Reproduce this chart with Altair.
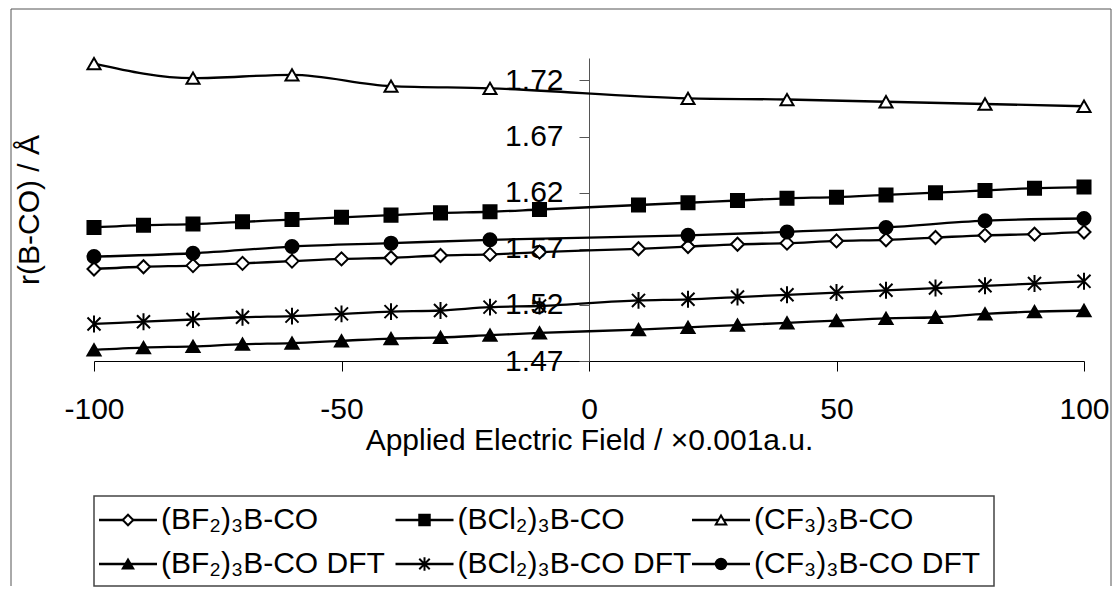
import altair as alt
import pandas as pd

# ---------------- data ----------------
x_full = [-100, -90, -80, -70, -60, -50, -40, -30, -20, -10,
          10, 20, 30, 40, 50, 60, 70, 80, 90, 100]
x_step20 = [-100, -80, -60, -40, -20, 20, 40, 60, 80, 100]

bf2_co = [1.552, 1.554, 1.555, 1.557, 1.559, 1.561, 1.562, 1.564, 1.565, 1.567,
          1.570, 1.572, 1.574, 1.575, 1.577, 1.578, 1.580, 1.582, 1.583, 1.585]
bcl2_co = [1.589, 1.591, 1.592, 1.594, 1.596, 1.598, 1.600, 1.602, 1.603, 1.605,
           1.609, 1.611, 1.613, 1.615, 1.616, 1.618, 1.620, 1.622, 1.624, 1.625]
cf3_co = [1.735, 1.722, 1.725, 1.715, 1.713, 1.704, 1.703, 1.701, 1.699, 1.697]
bf2_dft = [1.480, 1.482, 1.483, 1.485, 1.486, 1.488, 1.490, 1.491, 1.493, 1.495,
           1.498, 1.500, 1.502, 1.504, 1.506, 1.508, 1.509, 1.512, 1.514, 1.515]
bcl2_dft = [1.503, 1.505, 1.507, 1.509, 1.510, 1.512, 1.514, 1.515, 1.518, 1.519,
            1.524, 1.525, 1.527, 1.529, 1.531, 1.533, 1.535, 1.537, 1.539, 1.541]
cf3_dft = [1.563, 1.566, 1.572, 1.575, 1.578, 1.582, 1.585, 1.589, 1.595, 1.597]

series_names = ["(BF₂)₃B-CO", "(BCl₂)₃B-CO", "(CF₃)₃B-CO",
                "(BF₂)₃B-CO DFT", "(BCl₂)₃B-CO DFT", "(CF₃)₃B-CO DFT"]
series_x = [x_full, x_full, x_step20, x_full, x_full, x_step20]
series_y = [bf2_co, bcl2_co, cf3_co, bf2_dft, bcl2_dft, cf3_dft]

y_ticks = [1.47, 1.52, 1.57, 1.62, 1.67, 1.72]
x_ticks = [-100, -50, 0, 50, 100]
legend_col = [0, 1, 2, 0, 1, 2]
legend_row = [0, 0, 0, 1, 1, 1]

# ---------------- styles ----------------
FONT = "Liberation Sans"
FS = 30
STAR = "M0,-1.3L0,1.3M-1,-1L1,1M-1,1L1,-1"
shape_range = ["diamond", "square", "triangle-up", "triangle-up", STAR, "circle"]
fill_range = ["white", "black", "white", "black", "black", "black"]

rows = []
for name, xs, ys in zip(series_names, series_x, series_y):
    for xv, yv in zip(xs, ys):
        rows.append({"series": name, "x": xv, "r": yv})
df = pd.DataFrame(rows)

W, H = 990, 303
LEG_TOP_GAP = 135
LEG_H = 90

xenc = alt.X("x:Q",
             scale=alt.Scale(domain=[-100, 100], nice=False, zero=False),
             axis=alt.Axis(values=x_ticks, labelExpr="'' + datum.value",
                           title="Applied Electric Field / ×0.001a.u.",
                           grid=False, tickSize=10, labelPadding=23, titlePadding=1,
                           labelFlush=False,
                           domainColor="black", tickColor="black", domainWidth=1.2,
                           labelFontSize=FS, titleFontSize=FS, titleFontWeight="normal",
                           labelFont=FONT, titleFont=FONT,
                           labelColor="black", titleColor="black"))
yenc = alt.Y("r:Q",
             scale=alt.Scale(domain=[1.47, 1.74], nice=False, zero=False),
             axis=alt.Axis(values=y_ticks, format=".2f", offset=-W / 2,
                           title="r(B-CO) / Å", titleX=-W / 2 - 65, titleY=H / 2,
                           titleAngle=-90, titleBaseline="middle", titleAlign="center",
                           grid=False, tickSize=10, labelPadding=16, labelFlush=False,
                           domainColor="#555", tickColor="#555",
                           labelFontSize=FS, titleFontSize=FS, titleFontWeight="normal",
                           labelFont=FONT, titleFont=FONT,
                           labelColor="black", titleColor="black"))

shape_enc = alt.Shape("series:N", scale=alt.Scale(domain=series_names, range=shape_range), legend=None)
fill_enc = alt.Fill("series:N", scale=alt.Scale(domain=series_names, range=fill_range), legend=None)

lines = alt.Chart(df).mark_line(interpolate="monotone", color="black", strokeWidth=2.3).encode(
    x=xenc, y=yenc, detail="series:N")
points = alt.Chart(df).mark_point(filled=True, stroke="black", strokeWidth=2, size=170, opacity=1).encode(
    x="x:Q", y="r:Q", shape=shape_enc, fill=fill_enc)

one = pd.DataFrame({"a": [0]})
border_col = "#555"
bottom_rel = H + LEG_TOP_GAP + LEG_H
b_left = alt.Chart(one).mark_rule(color=border_col, strokeWidth=1).encode(
    x=alt.value(-83), y=alt.value(-49), y2=alt.value(bottom_rel))
b_right = alt.Chart(one).mark_rule(color=border_col, strokeWidth=1).encode(
    x=alt.value(1017), y=alt.value(-49), y2=alt.value(bottom_rel))
b_top = alt.Chart(one).mark_rule(color=border_col, strokeWidth=1).encode(
    x=alt.value(-83), x2=alt.value(1017), y=alt.value(-49))

main = alt.layer(b_left, b_right, b_top, lines, points).properties(width=W, height=H)

leg_df = pd.DataFrame({"series": series_names, "col": legend_col, "row": legend_row})
base = alt.Chart(leg_df).encode(
    x=alt.X("col:Q", scale=alt.Scale(domain=[0, 2], range=[5, 598]), axis=None),
    y=alt.Y("row:Q", scale=alt.Scale(domain=[0, 1], range=[24, 68]), axis=None))
leg_rule = base.mark_rule(color="black", strokeWidth=2.3, x2Offset=58).encode(x2="col:Q")
leg_pt = base.mark_point(filled=True, stroke="black", strokeWidth=2, size=110, xOffset=29, opacity=1).encode(
    shape=shape_enc, fill=fill_enc)
leg_txt = base.mark_text(align="left", baseline="middle", dx=62, font=FONT, fontSize=FS,
                         color="black").encode(text="series:N")
legend = alt.layer(leg_rule, leg_pt, leg_txt).properties(
    width=900, height=LEG_H,
    view=alt.ViewBackground(stroke="#444", strokeWidth=1.5))

chart = alt.vconcat(main, legend, spacing=LEG_TOP_GAP, bounds="flush").properties(
    padding={"left": 2, "top": 0, "right": 0, "bottom": 0},
    background="white"
).configure_view(strokeWidth=0)

chart.save("out.html", embed_options={"renderer": "svg", "actions": False})
